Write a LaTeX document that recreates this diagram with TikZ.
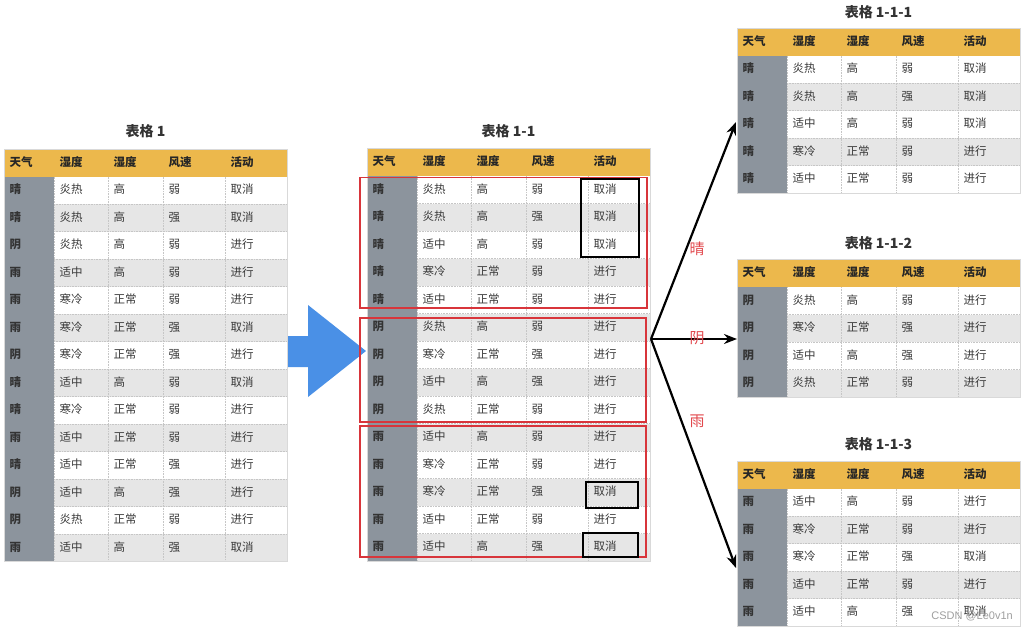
\documentclass[tikz,border=0pt]{standalone}
\usepackage{fontspec}
\newfontfamily\cjk{Noto Sans CJK SC}
\newfontfamily\wmfont{Liberation Sans}
\usetikzlibrary{arrows.meta}
\definecolor{hdr}{HTML}{ECB84C}
\definecolor{fcol}{HTML}{8C949D}
\definecolor{stripe}{HTML}{E6E6E6}
\definecolor{txt}{HTML}{3A3A3A}
\definecolor{boxred}{HTML}{D8353B}
\definecolor{lblred}{HTML}{E2474C}
\definecolor{bluearr}{HTML}{4A90E6}
\tikzset{
 cell/.style={anchor=west,inner sep=0pt,text height=8.8pt,text depth=1.6pt,font=\cjk\fontsize{11.5}{11.5}\selectfont,text=txt},
 hcell/.style={cell,font=\cjk\bfseries\fontsize{11.5}{11.5}\selectfont,text=black!85},
 fcell/.style={cell,font=\cjk\bfseries\fontsize{11.5}{11.5}\selectfont,text=black!80},
 ttl/.style={inner sep=0pt,font=\cjk\bfseries\fontsize{14}{14}\selectfont,text=black!80},
 gridline/.style={draw=gray!45,densely dotted,line width=0.6pt},
 frameline/.style={draw=gray!30,line width=0.6pt},
 redbox/.style={draw=boxred,line width=1.6pt},
 blkbox/.style={draw=black,line width=2pt},
 branch/.style={draw=black,line width=2.2pt,-{Stealth[length=13pt,width=10pt]}},
 lbl/.style={inner sep=0pt,text=lblred,font=\cjk\fontsize{15}{15}\selectfont},
 wm/.style={inner sep=0pt,anchor=east,text=gray!75,font=\wmfont\fontsize{11}{11}\selectfont}
}
% #1 name, #2 x0, #3 y0, #4 number of data rows, #5 rows
\newcommand\mktable[5]{%
 \def\tx{#2}\def\ty{#3}%
 \foreach \a/\b/\c/\d/\e [count=\i from 0] in {#5}{%
  \pgfmathsetmacro\yt{\ty+27.5*\i}%
  \pgfmathsetmacro\ym{\yt+13.75}%
  \ifnum\i=0
   \fill[hdr] (\tx,\yt) rectangle ++(283,27.5);
   \def\cs{hcell}\def\fs{hcell}%
  \else
   \ifodd\i\relax
    \fill[white] (\tx,\yt) rectangle ++(283,27.5);
   \else
    \fill[stripe] (\tx,\yt) rectangle ++(283,27.5);
   \fi
   \fill[fcol] (\tx,\yt) rectangle ++(50,27.5);
   \def\cs{cell}\def\fs{fcell}%
  \fi
  \node[\fs] (#1-\i-1) at (\tx+5.5,\ym) {\a};
  \node[\cs] (#1-\i-2) at (\tx+55.5,\ym) {\b};
  \node[\cs] (#1-\i-3) at (\tx+109.5,\ym) {\c};
  \node[\cs] (#1-\i-4) at (\tx+164.5,\ym) {\d};
  \node[\cs] (#1-\i-5) at (\tx+226.5,\ym) {\e};
 }%
 \pgfmathsetmacro\yb{\ty+27.5*(#4+1)}%
 \foreach \cx in {50,104,159,221}{
  \draw[gridline] (\tx+\cx,\ty+27.5) -- (\tx+\cx,\yb);
 }
 \ifnum#4>1
 \foreach \k in {2,...,#4}{
  \draw[gridline] (\tx+50,\ty+27.5*\k) -- (\tx+283,\ty+27.5*\k);
 }
 \fi
 \draw[frameline] (\tx,\ty) rectangle (\tx+283,\yb);
}
\begin{document}
\begin{tikzpicture}[x=1pt,y=-1pt]
\useasboundingbox (0,0) rectangle (1027,630);
\fill[white] (0,0) rectangle (1027,630);
% big blue arrow
\fill[bluearr] (287,336) -- (308,336) -- (308,305) -- (366,351) -- (308,397) -- (308,367) -- (287,367) -- cycle;
% titles
\node[ttl] (t1title) at (145.5,131) {表格 1};
\node[ttl] (t11title) at (508.5,131) {表格 1-1};
\node[ttl] (t111title) at (878.5,12) {表格 1-1-1};
\node[ttl] (t112title) at (878.5,243) {表格 1-1-2};
\node[ttl] (t113title) at (878.5,444) {表格 1-1-3};
% tables
\mktable{t1}{4}{149}{14}{天气/湿度/湿度/风速/活动,
 晴/炎热/高/弱/取消, 晴/炎热/高/强/取消, 阴/炎热/高/弱/进行, 雨/适中/高/弱/进行,
 雨/寒冷/正常/弱/进行, 雨/寒冷/正常/强/取消, 阴/寒冷/正常/强/进行, 晴/适中/高/弱/取消,
 晴/寒冷/正常/弱/进行, 雨/适中/正常/弱/进行, 晴/适中/正常/强/进行, 阴/适中/高/强/进行,
 阴/炎热/正常/弱/进行, 雨/适中/高/强/取消}
\mktable{t11}{367}{148.5}{14}{天气/湿度/湿度/风速/活动,
 晴/炎热/高/弱/取消, 晴/炎热/高/强/取消, 晴/适中/高/弱/取消, 晴/寒冷/正常/弱/进行,
 晴/适中/正常/弱/进行, 阴/炎热/高/弱/进行, 阴/寒冷/正常/强/进行, 阴/适中/高/强/进行,
 阴/炎热/正常/弱/进行, 雨/适中/高/弱/进行, 雨/寒冷/正常/弱/进行, 雨/寒冷/正常/强/取消,
 雨/适中/正常/弱/进行, 雨/适中/高/强/取消}
\mktable{t111}{737}{28}{5}{天气/湿度/湿度/风速/活动,
 晴/炎热/高/弱/取消, 晴/炎热/高/强/取消, 晴/适中/高/弱/取消, 晴/寒冷/正常/弱/进行,
 晴/适中/正常/弱/进行}
\mktable{t112}{737}{259.5}{4}{天气/湿度/湿度/风速/活动,
 阴/炎热/高/弱/进行, 阴/寒冷/正常/强/进行, 阴/适中/高/强/进行, 阴/炎热/正常/弱/进行}
\mktable{t113}{737}{461}{5}{天气/湿度/湿度/风速/活动,
 雨/适中/高/弱/进行, 雨/寒冷/正常/弱/进行, 雨/寒冷/正常/强/取消, 雨/适中/正常/弱/进行,
 雨/适中/高/强/取消}
% group boxes
\draw[redbox] (360,177.5) rectangle (647,308);
\draw[redbox] (360,318) rectangle (646,422);
\draw[redbox] (360,426) rectangle (646,557);
\draw[blkbox] (581,179) rectangle (639,257);
\draw[blkbox] (586,482) rectangle (638,508);
\draw[blkbox] (583,533) rectangle (638,557);
% branches
\coordinate (split) at (651,339);
\coordinate (t111in) at (736,122);
\coordinate (t112in) at (737,339);
\coordinate (t113in) at (736,568);
\draw[branch] (split) -- (t111in);
\draw[branch] (split) -- (t112in);
\draw[branch] (split) -- (t113in);
\node[lbl] (lsun) at (697,249) {晴};
\node[lbl] (lcloud) at (697,338) {阴};
\node[lbl] (lrain) at (697,421) {雨};
% watermark
\node[wm] (mark) at (1013,616) {CSDN @Le0v1n};
\end{tikzpicture}
\end{document}
